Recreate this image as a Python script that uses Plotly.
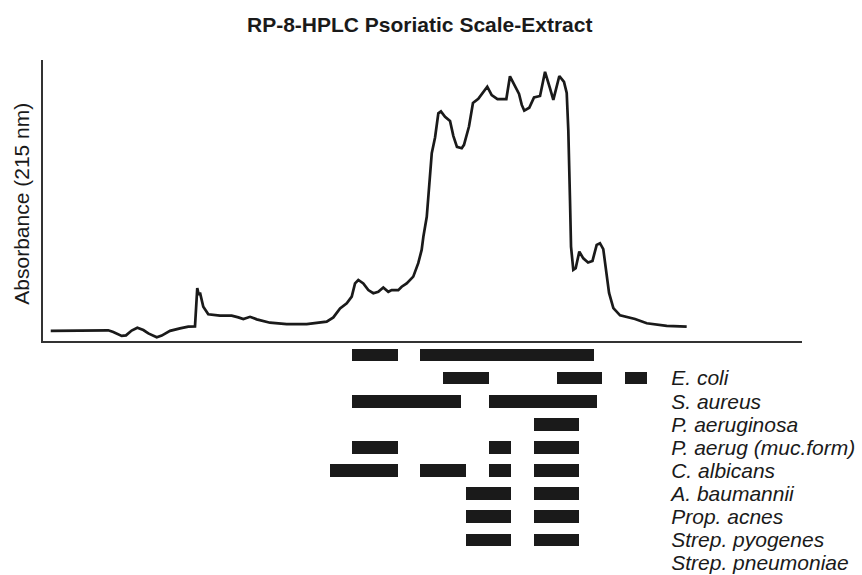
import plotly.graph_objects as go

# ---------------- chromatogram (time in min, absorbance in relative units) ----
time_min = [1.43, 6.50, 6.94, 7.68, 8.06, 8.56, 9.06, 9.59, 10.03, 10.77, 11.21, 11.94,
            12.82, 13.55, 14.14, 14.23, 14.34, 14.47, 14.58, 14.87, 15.31, 16.34, 17.37,
            17.96, 18.40, 18.99, 19.58, 20.75, 22.22, 23.98, 25.15, 25.74, 26.33, 26.92,
            27.51, 27.95, 28.24, 28.53, 28.97, 29.41, 29.85, 30.29, 30.73, 31.17, 31.47,
            32.05, 32.35, 32.79, 33.37, 33.81, 34.11, 34.26, 34.56, 34.85, 35.00, 35.29,
            35.58, 35.81, 36.17, 36.61, 36.90, 37.22, 37.64, 37.84, 38.28, 38.63, 39.10,
            39.89, 40.28, 40.79, 41.57, 41.89, 42.33, 42.69, 42.93, 43.15, 43.59, 44.01,
            44.54, 44.98, 45.42, 45.71, 46.24, 46.65, 46.89, 47.03, 47.18, 47.27, 47.47,
            47.68, 48.00, 48.35, 48.77, 49.16, 49.53, 49.82, 50.11, 50.41, 50.62, 51.00,
            51.59, 52.91, 53.94, 55.70, 57.46]
absorbance = [0.036, 0.038, 0.032, 0.018, 0.020, 0.037, 0.047, 0.039, 0.027, 0.013, 0.019,
              0.036, 0.045, 0.051, 0.052, 0.134, 0.188, 0.164, 0.172, 0.122, 0.095, 0.090,
              0.090, 0.084, 0.078, 0.086, 0.077, 0.065, 0.060, 0.060, 0.065, 0.069, 0.084,
              0.116, 0.134, 0.158, 0.205, 0.217, 0.205, 0.181, 0.170, 0.175, 0.190, 0.175,
              0.181, 0.181, 0.193, 0.205, 0.229, 0.277, 0.324, 0.371, 0.442, 0.585, 0.668,
              0.724, 0.810, 0.817, 0.798, 0.783, 0.730, 0.691, 0.686, 0.698, 0.763, 0.847,
              0.862, 0.905, 0.875, 0.861, 0.861, 0.942, 0.907, 0.879, 0.840, 0.820, 0.830,
              0.867, 0.872, 0.958, 0.899, 0.858, 0.943, 0.922, 0.883, 0.751, 0.502, 0.336,
              0.253, 0.259, 0.318, 0.294, 0.279, 0.285, 0.342, 0.348, 0.327, 0.229, 0.171,
              0.117, 0.091, 0.078, 0.063, 0.054, 0.051]

# ---------------- activity bars: (start, end) in min, one list per row -------
activity_rows = [
    [(28, 32), (34, 49.3)],
    [(36, 40), (46, 50), (52, 54)],
    [(28, 37.6), (40, 49.6)],
    [(44, 48)],
    [(28, 32), (40, 42), (44, 48)],
    [(26, 32), (34, 38), (40, 42), (44, 48)],
    [(38, 42), (44, 48)],
    [(38, 42), (44, 48)],
    [(38, 42), (44, 48)],
]
organisms = ["E. coli", "S. aureus", "P. aeruginosa", "P. aerug (muc.form)",
             "C. albicans", "A. baumannii", "Prop. acnes", "Strep. pyogenes",
             "Strep. pneumoniae"]
label_rows = [1, 2, 3, 4, 5, 6, 7, 8, 9]

FONT = "Liberation Sans, Arial, Helvetica, sans-serif"
INK = "#1a1a1a"

fig = go.Figure()
fig.add_trace(go.Scatter(x=time_min, y=absorbance, mode="lines",
                         line=dict(color=INK, width=2.7), hoverinfo="skip",
                         showlegend=False, xaxis="x", yaxis="y"))

bar_y, bar_base, bar_len = [], [], []
for r, segs in enumerate(activity_rows):
    for s, e in segs:
        bar_y.append(r)
        bar_base.append(s)
        bar_len.append(e - s)
fig.add_trace(go.Bar(y=bar_y, x=bar_len, base=bar_base, orientation="h",
                     width=0.55, marker=dict(color=INK, line=dict(width=0)),
                     showlegend=False, xaxis="x", yaxis="y2", hoverinfo="skip"))

fig.update_layout(
    width=862, height=575,
    margin=dict(l=0, r=0, t=0, b=0),
    paper_bgcolor="white", plot_bgcolor="rgba(0,0,0,0)",
    font=dict(family=FONT, color=INK),
    xaxis=dict(domain=[0.0499, 0.9304], range=[0.75, 67.62], anchor="y",
               showgrid=False, zeroline=False, showticklabels=False, ticks="",
               showline=True, linecolor="#333333", linewidth=1.6),
    yaxis=dict(domain=[0.4070, 0.8957], range=[0, 1], anchor="x",
               showgrid=False, zeroline=False, showticklabels=False, ticks="",
               showline=True, linecolor="#333333", linewidth=1.6),
    yaxis2=dict(domain=[0.0, 0.4035], range=[9.52, -0.52], anchor="free",
                position=0.7775, side="right", showgrid=False, zeroline=False,
                showline=False, ticks="",
                tickvals=label_rows, ticktext=["<i>%s</i>" % o for o in organisms],
                tickfont=dict(family=FONT, size=21, color=INK)),
    bargap=0,
)

fig.add_annotation(text="<b>RP-8-HPLC Psoriatic Scale-Extract</b>",
                   xref="paper", yref="paper", x=0.487, y=1 - 25 / 575,
                   xanchor="center", yanchor="middle", showarrow=False,
                   font=dict(family=FONT, size=21, color=INK))
fig.add_annotation(text="Absorbance (215 nm)", textangle=-90,
                   xref="paper", yref="paper", x=21.7 / 862, y=1 - 204 / 575,
                   xanchor="center", yanchor="middle", showarrow=False,
                   font=dict(family=FONT, size=21, color=INK))

fig.write_html("out.html")
